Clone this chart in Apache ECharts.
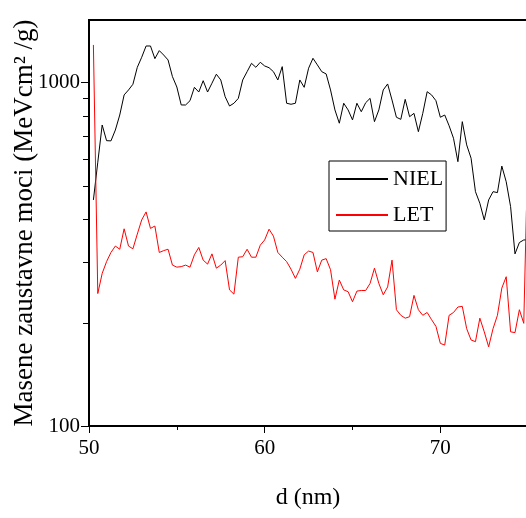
<!DOCTYPE html>
<html>
<head>
<meta charset="utf-8">
<script src="https://cdn.jsdelivr.net/npm/echarts@6/dist/echarts.min.js"></script>
<style>
html,body{margin:0;padding:0;background:#fff;}
#chart{width:526px;height:518px;}
</style>
</head>
<body>
<div id="chart"></div>
<script>
var dValues = [50.25,50.5,50.75,51,51.25,51.5,51.75,52,52.25,52.5,52.75,53,53.25,53.5,53.75,54,54.25,54.5,54.75,55,
55.25,55.5,55.75,56,56.25,56.5,56.75,57,57.25,57.5,57.75,58,58.25,58.5,58.75,59,59.25,59.5,59.75,60,
60.25,60.5,60.75,61,61.25,61.5,61.75,62,62.25,62.5,62.75,63,63.25,63.5,63.75,64,64.25,64.5,64.75,65,
65.25,65.5,65.75,66,66.25,66.5,66.75,67,67.25,67.5,67.75,68,68.25,68.5,68.75,69,69.25,69.5,69.75,70,
70.25,70.5,70.75,71,71.25,71.5,71.75,72,72.25,72.5,72.75,73,73.25,73.5,73.75,74,74.25,74.5,74.75,74.9];

var nielValues = [455,586,752,677,676,727,804,920,951,988,1107,1184,1277,1277,1173,1238,1202,1163,1040,970,
860,860,885,968,938,1012,938,995,1057,1017,909,854,870,899,1017,1075,1137,1107,1145,1117,
1104,1075,1017,1112,870,864,870,1017,968,1100,1176,1125,1075,1059,951,832,761,870,832,778,
870,822,873,899,769,832,951,990,889,792,781,893,795,813,719,813,940,920,885,792,
804,748,688,588,769,658,602,481,445,398,455,481,478,571,514,435,317,342,348,348];

var letValues = [1286,243,278,301,320,334,327,375,334,328,362,398,420,376,382,320,324,327,294,290,
291,294,290,315,331,304,296,317,288,294,303,249,242,310,311,327,310,310,336,348,
374,357,320,310,301,286,269,286,315,323,320,281,304,307,285,234,266,249,246,230,
247,248,248,260,288,260,241,254,304,218,210,206,208,240,218,210,214,204,195,174,
172,210,214,222,223,192,178,176,206,188,170,192,210,252,272,188,187,218,199,425];

var seriesNames = ['NIEL', 'LET'];
var xMin = 50, xMax = 80, xInterval = 10;
var yMin = 100, yMax = 1520;
var yMinorTicks = [200, 300, 400, 500, 600, 700, 800, 900];
var xAxisTitle = 'd (nm)';
var yAxisTitle = 'Masene zaustavne moci (MeVcm² /g)';

function pairs(ys) {
  return dValues.map(function (x, i) { return [x, ys[i]]; });
}

var FONT = 'Liberation Serif';
var chart = echarts.init(document.getElementById('chart'), null, {renderer: 'canvas'});
chart.setOption({
  backgroundColor: '#fff',
  animation: false,
  title: {
    text: xAxisTitle,
    left: 308,
    top: 486,
    textAlign: 'center',
    padding: 0,
    textStyle: {fontFamily: FONT, fontSize: 24, fontWeight: 'normal', color: '#000'}
  },
  grid: {
    left: 89, top: 20, right: -90, bottom: 92,
    outerBoundsMode: 'none',
    containLabel: false,
    show: true, borderColor: '#000', borderWidth: 2, backgroundColor: 'transparent'
  },
  legend: {
    orient: 'vertical',
    left: 329, top: 161,
    padding: [7, 3, 5, 6],
    itemGap: 14,
    itemWidth: 52,
    itemHeight: 22,
    borderColor: '#000',
    borderWidth: 1,
    backgroundColor: '#fff',
    itemStyle: {opacity: 0},
    textStyle: {fontFamily: FONT, fontSize: 22, color: '#000', lineHeight: 22},
    data: seriesNames
  },
  xAxis: {
    type: 'value',
    min: xMin, max: xMax, interval: xInterval,
    axisLine: {show: true, lineStyle: {color: '#000', width: 2}},
    axisTick: {show: true, length: 7, lineStyle: {color: '#000', width: 1}},
    minorTick: {show: true, splitNumber: 2, length: 4, lineStyle: {color: '#000', width: 1}},
    axisLabel: {fontFamily: FONT, fontSize: 21, color: '#000', margin: 12},
    splitLine: {show: false}
  },
  yAxis: {
    type: 'log', logBase: 10,
    min: yMin, max: yMax,
    position: 'left',
    name: yAxisTitle,
    nameLocation: 'middle',
    nameGap: 51,
    nameMoveOverlap: false,
    nameTextStyle: {fontFamily: FONT, fontSize: 27, color: '#000'},
    axisLine: {show: true, lineStyle: {color: '#000', width: 2}},
    axisTick: {show: true, length: 8, lineStyle: {color: '#000', width: 1}},
    axisLabel: {fontFamily: FONT, fontSize: 21, color: '#000', margin: 9, showMaxLabel: false,
      formatter: function (v) { return String(Math.round(v)); }},
    splitLine: {show: false}
  },
  series: [{
    name: seriesNames[0],
    type: 'line',
    symbol: 'none',
    lineStyle: {color: '#000', width: 1},
    itemStyle: {color: '#000'},
    data: pairs(nielValues)
  }, {
    name: seriesNames[1],
    type: 'line',
    symbol: 'none',
    lineStyle: {color: '#ff0000', width: 1},
    itemStyle: {color: '#ff0000'},
    data: pairs(letValues)
  }]
});

// minor ticks of the log axis, placed through the chart's own y scale
var axisX = chart.convertToPixel({xAxisIndex: 0}, xMin);
var minorTickGraphics = yMinorTicks.map(function (v) {
  var py = Math.round(chart.convertToPixel({yAxisIndex: 0}, v)) + 0.5;
  return {
    type: 'line',
    silent: true,
    z: 100,
    shape: {x1: axisX - 6, y1: py, x2: axisX, y2: py},
    style: {stroke: '#000', lineWidth: 1}
  };
});
chart.setOption({graphic: minorTickGraphics});
</script>
</body>
</html>
